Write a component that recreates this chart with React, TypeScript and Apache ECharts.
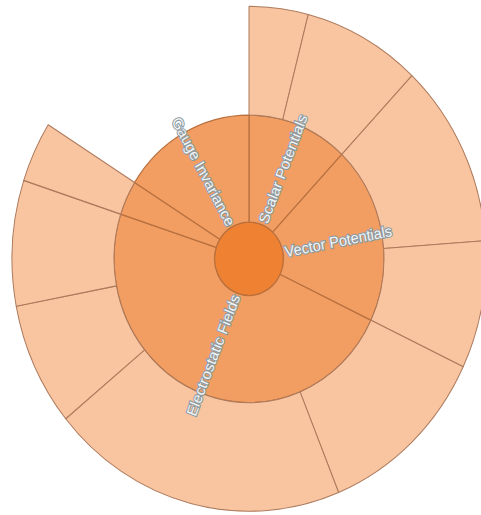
import React, { useEffect, useRef } from "react";
import * as echarts from "echarts";

// Middle ring sectors (clockwise from 12 o'clock)
const middleNames = ["Scalar Potentials", "Vector Potentials", "Electrostatic Fields", "Boundary Terms", "Gauge Invariance"];
// Outer ring values per middle sector (empty = no children)
const outerValues: number[][] = [
  [14.5, 29],
  [42.5, 29.5],
  [42.5, 73, 28.5, 29],
  [14],
  [],
];
const leafOnlyValues = [0, 0, 0, 0, 58];
const hiddenLabel = [false, false, false, true, false];

export default function App() {
  const ref = useRef<HTMLDivElement>(null);
  useEffect(() => {
    if (!ref.current) return;
    const chart = echarts.init(ref.current, undefined, { renderer: "svg" });
    const children = middleNames.map((name, i) => {
      const kids = outerValues[i].map((v, j) => ({ name: `${name} ${j + 1}`, value: v }));
      const node: any = { name };
      if (kids.length) node.children = kids;
      else node.value = leafOnlyValues[i];
      if (hiddenLabel[i]) node.label = { show: false };
      return node;
    });
    chart.setOption({
      animation: false,
      series: [
        {
          type: "sunburst",
          center: [249, 243],
          radius: [0, 237],
          sort: null,
          startAngle: 90,
          nodeClick: false,
          data: [{ name: "Root", children }],
          itemStyle: { borderColor: "#b5764e", borderWidth: 1 },
          levels: [
            {},
            {
              r0: 0,
              r: 34.5,
              itemStyle: { color: "#ee8232", borderColor: "#c06a30", borderWidth: 1.2 },
              label: { show: false },
            },
            {
              r0: 34.5,
              r: 135,
              itemStyle: { color: "#f29e62", borderColor: "#b8703f", borderWidth: 1.2 },
              label: {
                show: true,
                rotate: "radial",
                align: "left",
                distance: 2,
                fontSize: 14.5,
                fontFamily: "Liberation Sans, Arial, sans-serif",
                color: "#f4f4f4",
                textBorderColor: "#8a9aa2",
                textBorderWidth: 2,
              },
            },
            {
              r0: 135,
              r: 237,
              itemStyle: { color: "#f9c5a1", borderColor: "#ad7a5c", borderWidth: 1 },
              label: { show: false },
            },
          ],
        },
      ],
    });
    return () => chart.dispose();
  }, []);
  return (
    <div
      ref={ref}
      style={{
        position: "absolute",
        left: 0,
        top: 0,
        width: 481,
        height: 484,
        transform: "scaleY(1.065)",
        transformOrigin: "0 0",
      }}
    />
  );
}
